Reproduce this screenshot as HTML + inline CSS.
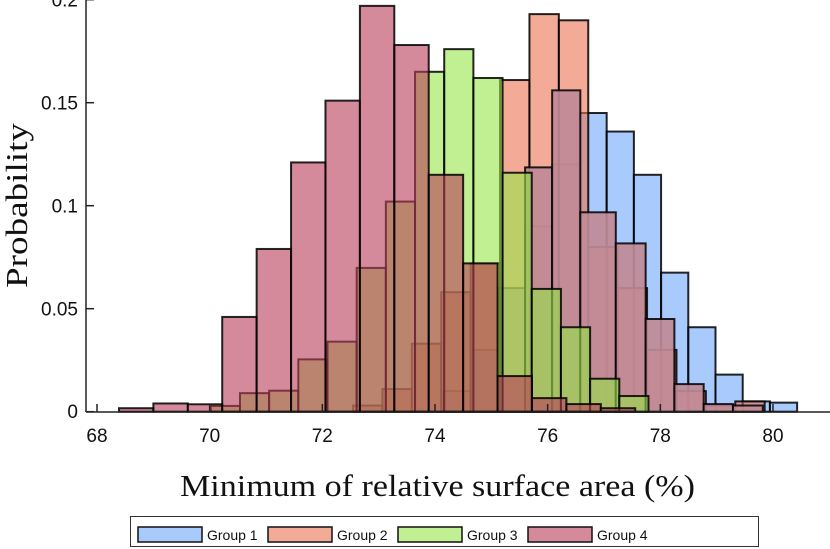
<!DOCTYPE html>
<html><head><meta charset="utf-8"><style>
body{margin:0;background:#fff;width:830px;height:549px;overflow:hidden}
svg{display:block}
.tk{font-family:"Liberation Sans",Arial,sans-serif;font-size:19px;fill:#111}
.lab{font-family:"Liberation Serif",serif;font-size:31px;fill:#111}
.lg{font-family:"Liberation Sans",Arial,sans-serif;font-size:14px;fill:#111}
</style></head><body>
<svg id="chart" width="830" height="549">
<g id="bars"></g>
<g id="axes"></g>
<text class="lab" x="180" y="496" textLength="515" lengthAdjust="spacingAndGlyphs">Minimum of relative surface area (%)</text>
<text class="lab" transform="translate(27,288) rotate(-90)" textLength="165" lengthAdjust="spacingAndGlyphs">Probability</text>
<g>
<rect x="130.5" y="516.5" width="628" height="30" fill="#fff" stroke="#333" stroke-width="1"/>
<rect x="138" y="527" width="64" height="15" fill="#a8cafc" stroke="#111" stroke-width="1.5"/>
<text class="lg" x="207" y="540">Group 1</text>
<rect x="268" y="527" width="64" height="15" fill="#f3aa96" stroke="#111" stroke-width="1.5"/>
<text class="lg" x="337" y="540">Group 2</text>
<rect x="398" y="527" width="64" height="15" fill="#c0f091" stroke="#111" stroke-width="1.5"/>
<text class="lg" x="467" y="540">Group 3</text>
<rect x="528" y="527" width="64" height="15" fill="#d48a9b" stroke="#111" stroke-width="1.5"/>
<text class="lg" x="597" y="540">Group 4</text>
</g>
</svg>
<script>
// Group 1 (blue)
const g1Start = 74.15, g1Width = 0.483;
const g1Values = [0.01,0.03,0.06,0.09,0.12,0.145,0.136,0.115,0.0675,0.041,0.018,0.005,0.0044];
// Group 2 (orange)
const g2Start = 72.545, g2Width = 0.522;
const g2Values = [0.003,0.011,0.033,0.058,0.072,0.161,0.193,0.19,0.08,0.06,0.03,0.01,0.003,0.005];
// overlay series (mauve)
const g5Edges = [75.6,76.08,76.58,77.21,77.74,78.25,78.77,79.29,79.82];
const g5Values = [0.1186,0.156,0.0968,0.0817,0.045,0.0134,0.0037,0.003];
// Group 3 (green)
const g3Start = 70.02, g3Width = 0.518;
const g3Values = [0.0028,0.009,0.0102,0.0254,0.034,0.0698,0.102,0.165,0.176,0.162,0.116,0.0596,0.041,0.016,0.0076];
// Group 4 (pink)
const g4Start = 68.39, g4Width = 0.611;
const g4Values = [0.0017,0.004,0.0036,0.046,0.079,0.121,0.151,0.197,0.178,0.115,0.072,0.0173,0.0066,0.0037,0.0017];
const xTicks = [68,70,72,74,76,78,80];
const yTicks = [0,0.05,0.1,0.15,0.2];
const yTickLabels = ["0","0.05","0.1","0.15","0.2"];

const X = v => 97 + 56.33*(v-68);
const Y = p => 411.7 - 2060*p;
const NS = "http://www.w3.org/2000/svg";
const bars = document.getElementById('bars');
function bar(x0,x1,p,fill,op,name){
  const r = document.createElementNS(NS,'rect');
  r.setAttribute('x',X(x0)); r.setAttribute('width',X(x1)-X(x0));
  r.setAttribute('y',Y(p)); r.setAttribute('height',Y(0)-Y(p));
  r.setAttribute('fill',fill); r.setAttribute('fill-opacity',op);
  r.setAttribute('stroke','#000'); r.setAttribute('stroke-opacity','0.85'); r.setAttribute('stroke-width','2');
  
  
  bars.appendChild(r);
}
g1Values.forEach((v,i)=>bar(g1Start+i*g1Width,g1Start+(i+1)*g1Width,v,'rgb(110,167,250)',0.6,'bar-group-1'));
g2Values.forEach((v,i)=>bar(g2Start+i*g2Width,g2Start+(i+1)*g2Width,v,'rgb(235,113,80)',0.6,'bar-group-2'));
g5Values.forEach((v,i)=>bar(g5Edges[i],g5Edges[i+1],v,'rgb(192,138,150)',0.92,'bar-group-4-overlay'));
g3Values.forEach((v,i)=>bar(g3Start+i*g3Width,g3Start+(i+1)*g3Width,v,'rgb(150,230,72)',0.6,'bar-group-3'));
g4Values.forEach((v,i)=>bar(g4Start+i*g4Width,g4Start+(i+1)*g4Width,v,'rgb(183,60,88)',0.6,'bar-group-4'));

const axes = document.getElementById('axes');
function ln(x1,y1,x2,y2,name){
  const l=document.createElementNS(NS,'line');
  l.setAttribute('x1',x1);l.setAttribute('y1',y1);l.setAttribute('x2',x2);l.setAttribute('y2',y2);
  l.setAttribute('stroke','#222');l.setAttribute('stroke-width','1.5');
  
  
  axes.appendChild(l);
}
function tx(x,y,s,anchor,name){
  const t=document.createElementNS(NS,'text');
  t.setAttribute('x',x);t.setAttribute('y',y);t.setAttribute('class','tk');t.setAttribute('text-anchor',anchor);
  t.textContent=s;
  
  
  axes.appendChild(t);
}
ln(86,0,86,412,'y-axis-line');
ln(86,412,830,412,'x-axis-line');
xTicks.forEach(v=>{ln(X(v),412,X(v),404,'x-tick');tx(X(v),442,String(v),'middle','x-tick-label');});
yTicks.forEach((v,i)=>{ln(86,Y(v),94,Y(v),'y-tick');tx(78,Math.min(Y(v)+7,418),yTickLabels[i],'end','y-tick-label');});
</script>
</body></html>
